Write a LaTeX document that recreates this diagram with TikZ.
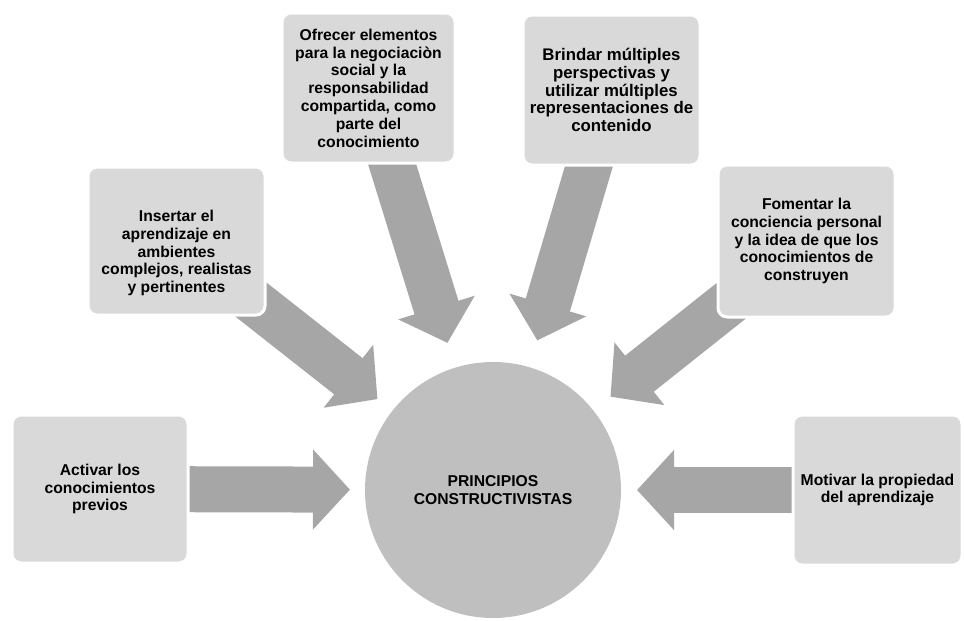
\documentclass[tikz,border=0pt]{standalone}
\usepackage{fontspec}
\setmainfont{Liberation Sans}
\usetikzlibrary{arrows.meta,calc}
\pgfdeclarelayer{background}
\pgfsetlayers{background,main}
\definecolor{boxgray}{RGB}{217,217,217}
\definecolor{hubgray}{RGB}{191,191,191}
\definecolor{arrowgray}{RGB}{166,166,166}
\begin{document}
\begin{tikzpicture}[x=1pt,y=-1pt,
  box/.style={rectangle, rounded corners=9pt, fill=boxgray, draw=white, line width=3pt,
    align=center, font=\bfseries\fontsize{15.7}{17.8}\selectfont, text=black, inner sep=2pt},
  txt/.style={align=center, font=\bfseries\fontsize{15.7}{17.8}\selectfont, text=black, inner sep=0pt},
  hub/.style={circle, fill=hubgray, minimum size=256pt, inner sep=0pt, align=center,
    font=\bfseries\fontsize{15.7}{18}\selectfont, text=black},
  barrow/.style={draw=arrowgray, line width=46pt, -{Triangle[length=37pt,width=78pt]}}]
\useasboundingbox (0,0) rectangle (964,621);

\node[hub] (circ) at (493,490) {PRINCIPIOS\\CONSTRUCTIVISTAS};

\node[box, minimum width=176pt, minimum height=148pt] (act) at (100,489)
  {Activar los\\conocimientos\\previos};
\node[box, minimum width=169pt, minimum height=150pt] (mot) at (877.5,490)
  {Motivar la propiedad\\del aprendizaje};
\node[box, minimum width=177pt, minimum height=148pt] (ins) at (176.5,241) {};
\node[txt] (instext) at (176.5,253)
  {Insertar el\\aprendizaje en\\ambientes\\complejos, realistas\\y pertinentes};
\node[box, minimum width=177pt, minimum height=152pt] (fom) at (806.5,241)
  {Fomentar la\\conciencia personal\\y la idea de que los\\conocimientos de\\construyen};
\node[box, minimum width=173pt, minimum height=150pt] (ofr) at (368.5,88)
  {Ofrecer elementos\\para la negociaci\`on\\social y la\\responsabilidad\\compartida, como\\parte del\\conocimiento};
\node[box, minimum width=177pt, minimum height=150pt, font=\bfseries\fontsize{16.8}{17.8}\selectfont] (bri) at (611.5,90)
  {Brindar m\'ultiples\\perspectivas y\\utilizar m\'ultiples\\representaciones de\\contenido};

\begin{pgfonlayer}{background}
\draw[barrow, shorten >=143pt] (act.center) -- (circ.center);
\draw[barrow, shorten >=144pt] (mot.center) -- (circ.center);
\draw[barrow, shorten >=147pt] (ins.center) -- (circ.center);
\draw[barrow, shorten >=150pt] (fom.center) -- (circ.center);
\draw[barrow, shorten >=154pt] (ofr.center) -- (circ.center);
\draw[barrow, shorten >=156pt] (bri.center) -- (circ.center);
\end{pgfonlayer}
\end{tikzpicture}
\end{document}
